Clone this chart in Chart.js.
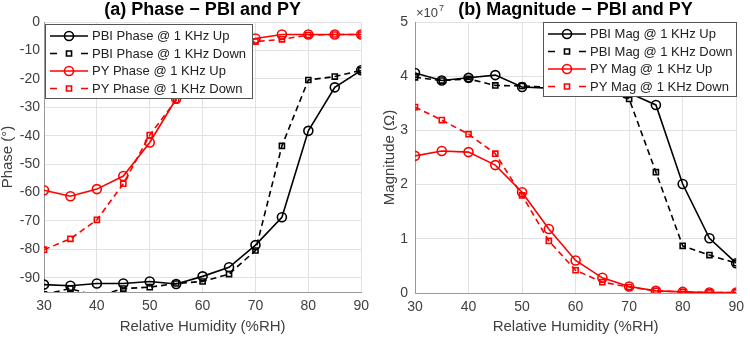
<!DOCTYPE html>
<html lang="en">
<head>
<meta charset="UTF-8">
<title>Phase and Magnitude - PBI and PY</title>
<style>
  body { margin: 0; background: #fff; }
  .wrap { position: relative; width: 750px; height: 338px; }
  .wrap canvas { position: absolute; top: 0; }
</style>
<script src="https://cdn.jsdelivr.net/npm/chart.js"></script>
</head>
<body>
<div class="wrap">
  <canvas id="phaseChart" width="375" height="338" style="left:0"></canvas>
  <canvas id="magChart" width="375" height="338" style="left:375px"></canvas>
</div>
<script>
// x values (%RH)
const humidity = [30, 35, 40, 45, 50, 55, 60, 65, 70, 75, 80, 85, 90];

// phase, degrees
const pbiPhaseUp   = [-92.4, -92.8, -92.0, -92.0, -91.3, -92.2, -89.5, -86.3, -78.5, -68.7, -38.3, -23.0, -17.0];
const pbiPhaseDown = [-95.8, -93.8, -96.5, -93.8, -93.3, -92.0, -91.3, -88.7, -80.4, -43.6, -20.4, -19.2, -17.0];
const pyPhaseUp    = [-59.2, -61.3, -58.8, -54.2, -42.4, -27.0, -15.0, -9.0, -5.8, -4.4, -4.4, -4.4, -4.4];
const pyPhaseDown  = [-80.1, -76.3, -69.6, -56.9, -39.8, -27.5, -15.5, -10.0, -6.9, -6.1, -4.6, -4.4, -4.4];

// magnitude, in units of 1e7 ohm
const pbiMagUp   = [4.06, 3.92, 3.97, 4.02, 3.80, 3.78, 3.76, 3.73, 3.69, 3.47, 2.01, 1.01, 0.55];
const pbiMagDown = [3.98, 3.92, 3.95, 3.83, 3.82, 3.80, 3.77, 3.72, 3.58, 2.23, 0.87, 0.70, 0.55];
const pyMagUp    = [2.53, 2.62, 2.60, 2.36, 1.86, 1.18, 0.60, 0.28, 0.12, 0.04, 0.02, 0.01, 0.01];
const pyMagDown  = [3.43, 3.19, 2.93, 2.57, 1.80, 0.96, 0.42, 0.20, 0.11, 0.04, 0.02, 0.01, 0.01];

// tick labels
const xTicks = [30, 40, 50, 60, 70, 80, 90];
const phaseTicks = [-90, -80, -70, -60, -50, -40, -30, -20, -10, 0];
const magTicks = [0, 1, 2, 3, 4, 5];

const FONT = '"Liberation Sans", Arial, Helvetica, sans-serif';
Chart.defaults.font.family = FONT;

function series(label, values, color, dashed) {
    return {
        label: label,
        data: humidity.map((x, i) => ({ x: x, y: values[i] })),
        borderColor: color,
        borderWidth: 1.6,
        borderDash: dashed ? [6, 4] : [],
        backgroundColor: 'rgba(0,0,0,0)',
        pointStyle: dashed ? 'rect' : 'circle',
        pointRadius: dashed ? 3.6 : 4.5,
        pointBorderWidth: 1.6,
        pointBorderColor: color,
        pointBackgroundColor: 'rgba(0,0,0,0)',
        tension: 0
    };
}

function xAxis() {
    return {
        type: 'linear', min: 30, max: 90,
        afterBuildTicks: s => { s.ticks = xTicks.map(v => ({ value: v })); },
        grid: { color: '#e2e2e2', drawTicks: false },
        border: { color: '#999' },
        ticks: { color: '#404040', font: { size: 14 }, padding: 6, maxRotation: 0 },
        title: { display: true, text: 'Relative Humidity (%RH)', color: '#404040',
                 font: { size: 15 }, padding: { top: 0, bottom: 2 } }
    };
}

// title + boxed legend drawn inside the plot
function overlay(title, box) {
    return {
        id: 'overlay',
        afterDraw(chart) {
            const ctx = chart.ctx;
            const area = chart.chartArea;
            ctx.save();
            ctx.fillStyle = '#000';
            ctx.font = 'bold 18px ' + FONT;
            ctx.textAlign = 'center';
            ctx.textBaseline = 'middle';
            ctx.fillText(title, (area.left + area.right) / 2, 10);

            if (box.exp) {
                ctx.fillStyle = '#404040';
                ctx.textAlign = 'left';
                ctx.textBaseline = 'alphabetic';
                ctx.font = '13px ' + FONT;
                ctx.fillText('\u00d710', area.left + 1, 17);
                ctx.font = '9px ' + FONT;
                ctx.fillText('7', area.left + 24, 11);
            }

            ctx.fillStyle = '#fff';
            ctx.strokeStyle = '#555';
            ctx.lineWidth = 1;
            ctx.fillRect(box.x, box.y, box.w, box.h);
            ctx.strokeRect(box.x + 0.5, box.y + 0.5, box.w, box.h);

            ctx.font = '13px ' + FONT;
            ctx.textAlign = 'left';
            ctx.textBaseline = 'middle';
            chart.data.datasets.forEach((ds, i) => {
                const y = box.y + 12 + i * 17.5;
                const x0 = box.x + 5, x1 = box.x + 43, xm = (x0 + x1) / 2;
                ctx.strokeStyle = ds.borderColor;
                ctx.lineWidth = ds.borderWidth;
                ctx.setLineDash(ds.borderDash.length ? [7, 24] : []);
                ctx.beginPath();
                ctx.moveTo(x0, y);
                ctx.lineTo(x1, y);
                ctx.stroke();
                ctx.setLineDash([]);
                ctx.lineWidth = ds.pointBorderWidth;
                ctx.beginPath();
                if (ds.pointStyle === 'rect') {
                    const h = ds.pointRadius * Math.SQRT1_2;
                    ctx.rect(xm - h, y - h, 2 * h, 2 * h);
                } else {
                    ctx.arc(xm, y, ds.pointRadius, 0, Math.PI * 2);
                }
                ctx.stroke();
                ctx.fillStyle = '#222';
                ctx.fillText(ds.label, x1 + 4, y + 0.5);
            });
            ctx.restore();
        }
    };
}

new Chart(document.getElementById('phaseChart'), {
    type: 'line',
    data: {
        datasets: [
            series('PBI Phase @ 1 KHz Up', pbiPhaseUp, '#000', false),
            series('PBI Phase @ 1 KHz Down', pbiPhaseDown, '#000', true),
            series('PY Phase @ 1 KHz Up', pyPhaseUp, '#ff0000', false),
            series('PY Phase @ 1 KHz Down', pyPhaseDown, '#ff0000', true)
        ]
    },
    options: {
        responsive: false,
        animation: false,
        layout: { padding: { left: 0, top: 22, right: 4, bottom: 0 } },
        plugins: { legend: { display: false }, tooltip: { enabled: false } },
        scales: {
            x: Object.assign(xAxis(), { afterFit: s => { s.height = 46; } }),
            y: {
                min: -95, max: 0,
                afterBuildTicks: s => { s.ticks = phaseTicks.map(v => ({ value: v })); },
                afterFit: s => { s.width = 44; },
                grid: { color: '#e2e2e2', drawTicks: false },
                border: { color: '#999' },
                ticks: { color: '#404040', font: { size: 14 }, padding: 4 },
                title: { display: true, text: 'Phase (\u00b0)', color: '#404040',
                         font: { size: 15, lineHeight: 1 }, padding: { top: 0, bottom: 0 } }
            }
        }
    },
    plugins: [overlay('(a) Phase \u2212 PBI and PY', { x: 45, y: 24, w: 207, h: 74 })]
});

new Chart(document.getElementById('magChart'), {
    type: 'line',
    data: {
        datasets: [
            series('PBI Mag @ 1 KHz Up', pbiMagUp, '#000', false),
            series('PBI Mag @ 1 KHz Down', pbiMagDown, '#000', true),
            series('PY Mag @ 1 KHz Up', pyMagUp, '#ff0000', false),
            series('PY Mag @ 1 KHz Down', pyMagDown, '#ff0000', true)
        ]
    },
    options: {
        responsive: false,
        animation: false,
        layout: { padding: { left: 0, top: 22, right: 7, bottom: 0 } },
        plugins: { legend: { display: false }, tooltip: { enabled: false } },
        scales: {
            x: Object.assign(xAxis(), { afterFit: s => { s.height = 45; } }),
            y: {
                min: 0, max: 5,
                afterBuildTicks: s => { s.ticks = magTicks.map(v => ({ value: v })); },
                afterFit: s => { s.width = 40; },
                grid: { color: '#e2e2e2', drawTicks: false },
                border: { color: '#999' },
                ticks: { color: '#404040', font: { size: 14 }, padding: 7 },
                title: { display: true, text: 'Magnitude (\u03a9)', color: '#404040',
                         font: { size: 15, lineHeight: 1 }, padding: { top: 7, bottom: 0 } }
            }
        }
    },
    plugins: [overlay('(b) Magnitude \u2212 PBI and PY', { x: 168, y: 22, w: 193, h: 74, exp: true })]
});
</script>
</body>
</html>
